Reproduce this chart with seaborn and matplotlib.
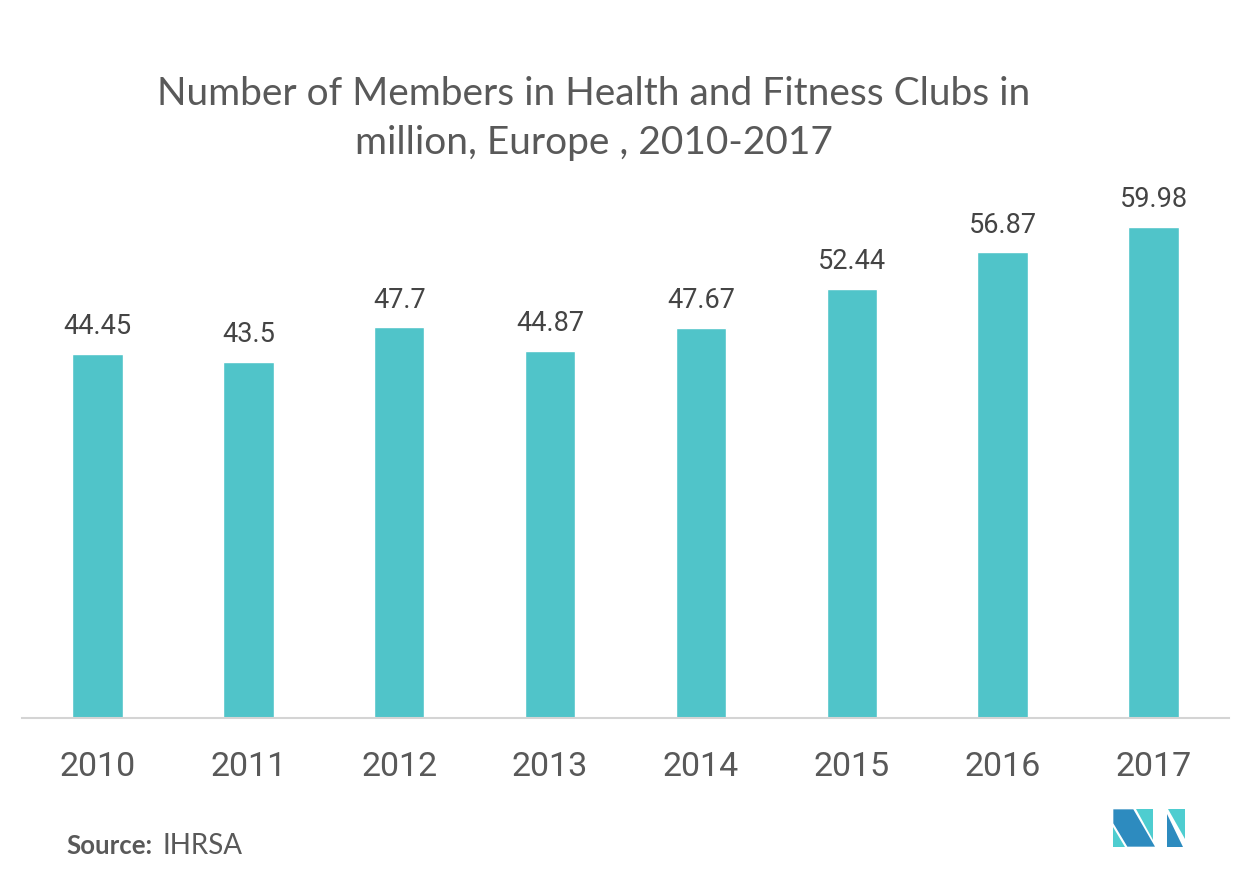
import seaborn as sns
import matplotlib.pyplot as plt
from matplotlib.patches import Polygon

# data
years = ['2010', '2011', '2012', '2013', '2014', '2015', '2016', '2017']
members = [44.45, 43.5, 47.7, 44.87, 47.67, 52.44, 56.87, 59.98]

bar_color = '#50c4c9'
text_grey = '#595959'

sns.set_theme(style='white')
plt.rcParams['font.family'] = ['Lato', 'DejaVu Sans']

fig = plt.figure(figsize=(12.52, 8.8), dpi=100)
ax = fig.add_axes([0.0176, 0.1841, 0.964, 0.614])

sns.barplot(x=years, y=members, color=bar_color, width=0.335, saturation=1, ax=ax)

# value labels on top of the bars
ax.bar_label(ax.containers[0], fmt='%g', padding=10, fontsize=19.5,
             color='#444444', family='Roboto')

ax.set_xlim(-0.5, 7.5)
ax.set_ylim(0, 66)
ax.set_yticks([])
ax.set_xlabel('')
ax.set_ylabel('')
sns.despine(ax=ax, left=True, right=True, top=True)
ax.spines['bottom'].set_color('#d4d4d4')
ax.spines['bottom'].set_linewidth(1.5)
ax.tick_params(axis='x', length=0, pad=24, labelsize=24.5, labelcolor=text_grey)
for lab in ax.get_xticklabels():
    lab.set_family('Roboto')

# title
fig.text(0.474, 0.8655, 'Number of Members in Health and Fitness Clubs in\nmillion, Europe , 2010-2017',
         ha='center', va='center', fontsize=28, color=text_grey, linespacing=1.47)

# source line
fig.text(0.053, 0.030, 'Source:', fontsize=18.5, fontweight='bold', color=text_grey)
fig.text(0.1295, 0.030, 'IHRSA', fontsize=20, color=text_grey)

# logo (pixel coordinates on an overlay)
logo = fig.add_axes([0, 0, 1, 1], facecolor='none')
logo.set_xlim(0, 1252)
logo.set_ylim(880, 0)
logo.axis('off')
dark = '#2d8bbf'
light = '#4ecdd0'
def z(pts):
    return [(1100 + px / 3, 790 + py / 3) for px, py in pts]
logo.add_patch(Polygon(z([(40, 58), (100, 58), (165, 170), (82, 170), (40, 100)]), color=dark, lw=0))
logo.add_patch(Polygon(z([(40, 112), (40, 170), (74, 170)]), color=light, lw=0))
logo.add_patch(Polygon(z([(107, 58), (160, 58), (160, 150)]), color=light, lw=0))
logo.add_patch(Polygon(z([(200, 72), (200, 170), (250, 170)]), color=dark, lw=0))
logo.add_patch(Polygon(z([(205, 58), (255, 58), (255, 148)]), color=light, lw=0))

fig.savefig('out.png', dpi=100)
